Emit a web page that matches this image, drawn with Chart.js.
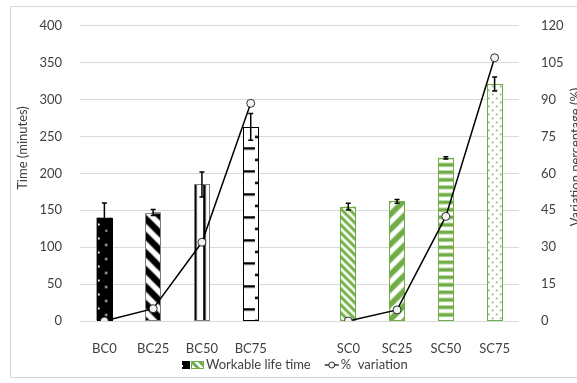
<!DOCTYPE html>
<html><head><meta charset="utf-8">
<script src="https://cdn.jsdelivr.net/npm/chart.js@4/dist/chart.umd.min.js"></script>
<style>html,body{margin:0;padding:0;background:#fff;overflow:hidden}#wrap{width:577px;height:383px;position:relative}</style>
</head><body><div id="wrap"><canvas id="c" width="577" height="383"></canvas></div>
<script>
// ---- data ----
const categories = ['BC0','BC25','BC50','BC75','','SC0','SC25','SC50','SC75'];
const workableLife = [140,147,185,263,null,155,162,221,321];
const workableErr = [20,4,17,18,null,4.5,2.5,1.5,9.5];
const variationPct = [0,5,32,88.5,null,0,4.5,42.5,107];
const leftAxisTicks = [0,50,100,150,200,250,300,350,400];
const rightAxisTicks = [0,15,30,45,60,75,90,105,120];
const seriesNames = ['Workable life time','%  variation'];
const axisTitles = ['Time (minutes)','Variation percentage (%)'];

const GREEN = '#70AD47';
const FONT = 'Lato, "Open Sans", sans-serif';
const TEXT = '#404040';

function tile(w,h,draw){const c=document.createElement('canvas');c.width=w;c.height=h;const g=c.getContext('2d');draw(g,w,h);return c;}
function diag(g,w,h,col,lw,down){g.strokeStyle=col;g.lineWidth=lw;g.beginPath();
  for(let k=-2;k<=2;k++){ if(down){g.moveTo(-w+k*w,-h);g.lineTo(2*w+k*w,2*h);} else {g.moveTo(-w+k*w,2*h);g.lineTo(2*w+k*w,-h);} } g.stroke();}

const tiles = {
  dotsBlack: tile(15,14,(g)=>{g.fillStyle='#000';g.fillRect(0,0,15,14);g.fillStyle='#fff';g.fillRect(1,1,2,2);g.fillRect(8.5,7.5,2,2);}),
  wideDown: tile(17,17,(g,w,h)=>{g.fillStyle='#fff';g.fillRect(0,0,w,h);diag(g,w,h,'#000',6.5,true);}),
  vLines: tile(9,4,(g)=>{g.fillStyle='#fff';g.fillRect(0,0,9,4);g.fillStyle='#000';g.fillRect(0,0,2.5,4);}),
  hDash: tile(24,23,(g)=>{g.fillStyle='#fff';g.fillRect(0,0,24,23);g.fillStyle='#000';g.fillRect(0,0,12,2.4);g.fillRect(12,11.5,12,2.4);}),
  gDown: tile(8,8,(g,w,h)=>{g.fillStyle='#fff';g.fillRect(0,0,w,h);diag(g,w,h,GREEN,3,true);}),
  gUpWide: tile(15,15,(g,w,h)=>{g.fillStyle='#fff';g.fillRect(0,0,w,h);diag(g,w,h,GREEN,5.5,false);}),
  gHoriz: tile(4,15,(g)=>{g.fillStyle='#fff';g.fillRect(0,0,4,15);g.fillStyle=GREEN;g.fillRect(0,0,4,3.6);g.fillRect(0,7.5,4,3.6);}),
  gDots: tile(8,8,(g)=>{g.fillStyle='#fff';g.fillRect(0,0,8,8);g.fillStyle=GREEN;g.fillRect(1,1,1.6,1.6);g.fillRect(5,5,1.6,1.6);})
};
const barStyles = [
  {t:'dotsBlack',b:'#000'},{t:'wideDown',b:'#7f7f7f'},{t:'vLines',b:'#7f7f7f'},{t:'hDash',b:'#000',dy:-12.3},
  null,
  {t:'gDown',b:GREEN},{t:'gUpWide',b:GREEN},{t:'gHoriz',b:GREEN},{t:'gDots',b:GREEN}
];

const patternPlugin = {
  id:'patterns',
  beforeDraw(chart){const ctx=chart.ctx;ctx.save();ctx.strokeStyle='#d9d9d9';ctx.lineWidth=1;ctx.strokeRect(10.5,6.5,600,371);ctx.restore();},
  afterDatasetDraw(chart,args){
    if(args.index!==0) return;
    const ctx=chart.ctx, meta=args.meta, y=chart.scales.y;
    meta.data.forEach((el,i)=>{
      if(workableLife[i]==null) return;
      const st=barStyles[i]; const left=el.x-el.width/2, top=el.y, bot=el.base, w=el.width;
      const p=ctx.createPattern(tiles[st.t],'repeat');
      p.setTransform(new DOMMatrix().translate(left, bot+(st.dy||0)));
      ctx.save();ctx.fillStyle=p;ctx.fillRect(left,top,w,bot-top);
      ctx.strokeStyle=st.b;ctx.lineWidth=1;ctx.strokeRect(Math.round(left)+0.5,Math.round(top)+0.5,Math.round(w)-1,Math.round(bot)-Math.round(top)-1);
      // error bar
      const e=workableErr[i]; const yt=y.getPixelForValue(workableLife[i]+e), yb=y.getPixelForValue(workableLife[i]-e);
      ctx.strokeStyle='#000';ctx.lineWidth=1.5;ctx.beginPath();
      ctx.moveTo(el.x,yt);ctx.lineTo(el.x,yb);ctx.moveTo(el.x-2.5,yt);ctx.lineTo(el.x+2.5,yt);ctx.moveTo(el.x-2.5,yb);ctx.lineTo(el.x+2.5,yb);ctx.stroke();
      ctx.restore();
    });
  },
  afterDraw(chart){
    const ctx=chart.ctx;ctx.save();
    ctx.font='13px '+FONT;ctx.fillStyle=TEXT;ctx.textBaseline='middle';ctx.textAlign='center';
    // axis titles
    ctx.save();ctx.translate(23,148);ctx.rotate(-Math.PI/2);ctx.fillText(axisTitles[0],0,0);ctx.restore();
    ctx.save();ctx.translate(576,157);ctx.rotate(-Math.PI/2);ctx.fillText(axisTitles[1],0,0);ctx.restore();
    // legend
    const ly=365;
    let p=ctx.createPattern(tiles.dotsBlack,'repeat');ctx.fillStyle=p;ctx.fillRect(182,361,8,8);
    p=ctx.createPattern(tiles.gDown,'repeat');p.setTransform(new DOMMatrix().translate(191,361));ctx.fillStyle=p;ctx.fillRect(191,361,13,8);
    ctx.strokeStyle=GREEN;ctx.lineWidth=1;ctx.strokeRect(191.5,361.5,12,7);
    ctx.fillStyle=TEXT;ctx.textAlign='left';ctx.fillText(seriesNames[0],206,ly);
    const x2=206+ctx.measureText(seriesNames[0]).width+14;
    ctx.strokeStyle='#000';ctx.lineWidth=1.2;ctx.beginPath();ctx.moveTo(x2,ly);ctx.lineTo(x2+14,ly);ctx.stroke();
    ctx.beginPath();ctx.arc(x2+7,ly,3,0,Math.PI*2);ctx.fillStyle='#f2f2f2';ctx.fill();ctx.lineWidth=0.8;ctx.stroke();
    ctx.fillStyle=TEXT;ctx.fillText(seriesNames[1],x2+16,ly);
    ctx.restore();
  }
};

new Chart(document.getElementById('c'),{
  data:{labels:categories,datasets:[
    {type:'bar',label:seriesNames[0],data:workableLife,yAxisID:'y',order:1,backgroundColor:'rgba(0,0,0,0)',borderWidth:0,barPercentage:0.32,categoryPercentage:1},
    {type:'line',label:seriesNames[1],data:variationPct,yAxisID:'y1',order:0,borderColor:'#000',borderWidth:1.5,spanGaps:false,tension:0,
     pointRadius:4,pointBackgroundColor:'#f2f2f2',pointBorderColor:'#000',pointBorderWidth:0.8}
  ]},
  options:{responsive:false,animation:false,devicePixelRatio:1,
    layout:{padding:{top:21,left:0,right:0,bottom:0}},
    plugins:{legend:{display:false},tooltip:{enabled:false}},
    scales:{
      x:{offset:true,grid:{display:false},border:{display:false},
         ticks:{color:TEXT,font:{family:FONT,size:13},padding:12,maxRotation:0,autoSkip:false},
         afterFit(s){s.height=62;}},
      y:{position:'left',min:0,max:400,afterBuildTicks(s){s.ticks=leftAxisTicks.map(v=>({value:v}));},
         grid:{color:'#d9d9d9',drawTicks:false},border:{display:false},
         ticks:{color:TEXT,font:{family:FONT,size:13},padding:18},afterFit(s){s.width=80;}},
      y1:{position:'right',min:0,max:120,afterBuildTicks(s){s.ticks=rightAxisTicks.map(v=>({value:v}));},
         grid:{display:false},border:{display:false},
         ticks:{color:TEXT,font:{family:FONT,size:13},padding:14},afterFit(s){s.width=58;}}
    }
  },
  plugins:[patternPlugin]
});
</script></body></html>
